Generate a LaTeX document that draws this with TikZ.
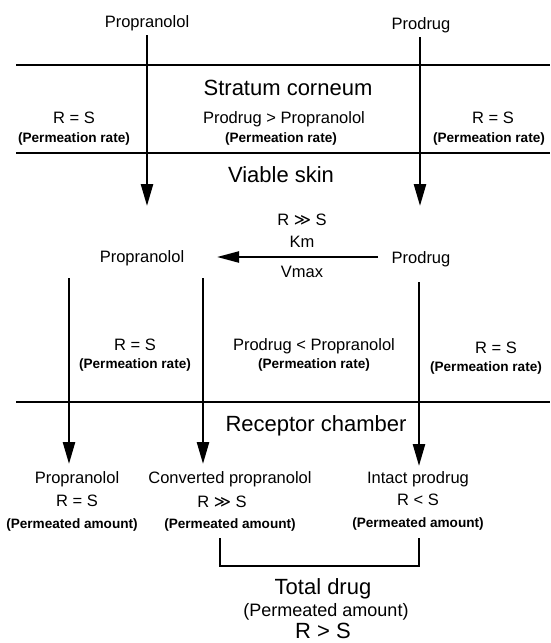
\documentclass[tikz,border=0pt]{standalone}
\usepackage{fontspec}
\setmainfont{Liberation Sans}
\newfontfamily\symfont{DejaVu Sans}
\usetikzlibrary{arrows.meta}
\newcommand{\ggsym}{{\symfont ≫}}
\begin{document}
\begin{tikzpicture}[x=1pt,y=-1pt,
  lbl/.style={anchor=base,inner sep=0pt,font=\fontsize{16.5}{18}\selectfont},
  big/.style={anchor=base,inner sep=0pt,font=\fontsize{22}{24}\selectfont},
  mid/.style={anchor=base,inner sep=0pt,font=\fontsize{18}{20}\selectfont},
  sm/.style={anchor=base,inner sep=0pt,font=\fontsize{13.6}{15}\selectfont\bfseries},
  layer/.style={line width=2.6pt},
  flow/.style={line width=2.5pt,-{Triangle[length=22pt,width=12pt]}},
  hflow/.style={line width=2.2pt,-{Triangle[length=22pt,width=11pt]}},
  wall/.style={line width=2.3pt},
]
\useasboundingbox (0,0) rectangle (550,643);

% top labels
\node[lbl] (p0) at (147,27) {Propranolol};
\node[lbl] (d0) at (421,29) {Prodrug};

% layer boundaries
\coordinate (l1a) at (16,65);  \coordinate (l1b) at (550,65);
\coordinate (l2a) at (16,153); \coordinate (l2b) at (550,153);
\coordinate (l3a) at (16,402); \coordinate (l3b) at (550,402);
\draw[layer] (l1a) -- (l1b);
\draw[layer] (l2a) -- (l2b);
\draw[layer] (l3a) -- (l3b);

% stratum corneum texts
\node[big] (sc) at (288,95) {Stratum corneum};
\node[lbl] (sc1) at (284,123) {Prodrug > Propranolol};
\node[sm]  (sc2) at (281,142) {(Permeation rate)};
\node[lbl] (scl1) at (74,123) {R = S};
\node[sm]  (scl2) at (74,142) {(Permeation rate)};
\node[lbl] (scr1) at (493,123) {R = S};
\node[sm]  (scr2) at (489,142) {(Permeation rate)};

\node[big] (vs) at (281,182) {Viable skin};

% top arrows
\coordinate (a1s) at (147,35);  \coordinate (a1e) at (147,206);
\coordinate (a2s) at (420,37);  \coordinate (a2e) at (420,206);
\draw[flow] (a1s) -- (a1e);
\draw[flow] (a2s) -- (a2e);

% conversion
\node[lbl] (p1) at (142,262) {Propranolol};
\node[lbl] (d1) at (421,263) {Prodrug};
\node[lbl] (rs) at (302,225) {R \ggsym\ S};
\node[lbl] (km) at (302,247) {Km};
\node[lbl] (vm) at (302,277) {Vmax};
\coordinate (hs) at (378,257); \coordinate (he) at (217,257);
\draw[hflow] (hs) -- (he);

% viable skin boxes texts
\node[lbl] (vl1) at (135,350) {R = S};
\node[sm]  (vl2) at (135,368) {(Permeation rate)};
\node[lbl] (vc1) at (314,350) {Prodrug < Propranolol};
\node[sm]  (vc2) at (314,368) {(Permeation rate)};
\node[lbl] (vr1) at (496,353) {R = S};
\node[sm]  (vr2) at (486,371) {(Permeation rate)};

% lower arrows
\coordinate (b1s) at (69,278);  \coordinate (b1e) at (69,464);
\coordinate (b2s) at (203,278); \coordinate (b2e) at (203,464);
\coordinate (b3s) at (419,282); \coordinate (b3e) at (419,466);
\draw[flow] (b1s) -- (b1e);
\draw[flow] (b2s) -- (b2e);
\draw[flow] (b3s) -- (b3e);

\node[big] (rc) at (316,431) {Receptor chamber};

% receptor results
\node[lbl] (r1a) at (77,483) {Propranolol};
\node[lbl] (r1b) at (77,506) {R = S};
\node[sm]  (r1c) at (72,528) {(Permeated amount)};
\node[lbl] (r2a) at (230,483) {Converted propranolol};
\node[lbl] (r2b) at (222,507) {R \ggsym\ S};
\node[sm]  (r2c) at (230,528) {(Permeated amount)};
\node[lbl] (r3a) at (418,483) {Intact prodrug};
\node[lbl] (r3b) at (418,505) {R < S};
\node[sm]  (r3c) at (418,527) {(Permeated amount)};

% bracket
\coordinate (k1) at (220,538); \coordinate (k2) at (220,566);
\coordinate (k3) at (419,566); \coordinate (k4) at (419,538);
\draw[wall] (k1) -- (k2) -- (k3) -- (k4);

\node[big] (td1) at (323,594) {Total drug};
\node[mid] (td2) at (326,616) {(Permeated amount)};
\node[big] (td3) at (323,638) {R > S};
\end{tikzpicture}
\end{document}
